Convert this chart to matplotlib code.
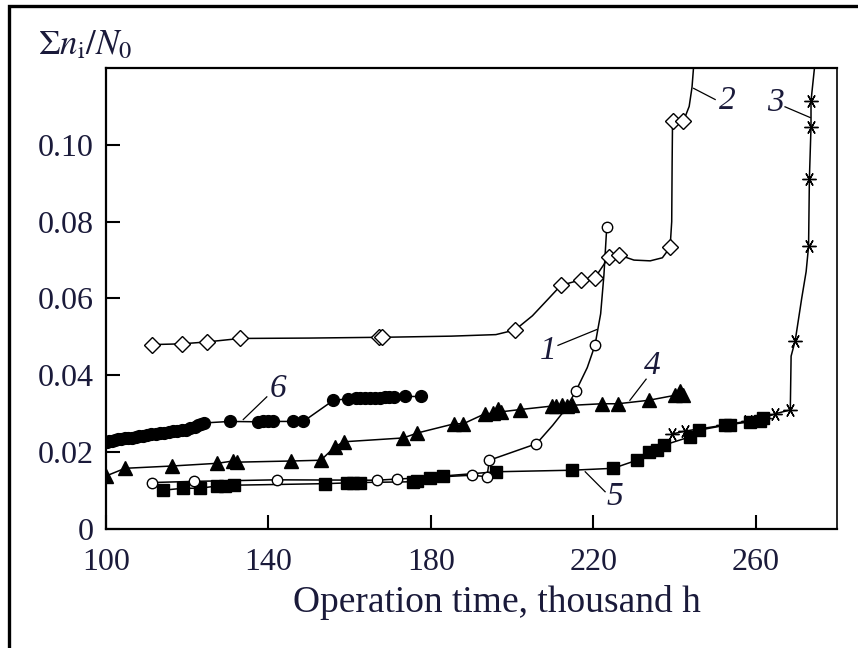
import numpy as np
import matplotlib
matplotlib.use("Agg")
import matplotlib.pyplot as plt
from matplotlib.patches import Rectangle

plt.rcParams['font.family'] = ['Liberation Serif', 'DejaVu Serif']
plt.rcParams['mathtext.fontset'] = 'stix'

# --- data ---
# curve 1 (open circles)
c1_x = [111.4, 121.7, 142.0, 166.7, 171.6, 190.2, 193.8, 194.4, 206.0, 215.7, 220.4, 223.3]
c1_y = [0.0121, 0.0124, 0.0128, 0.0127, 0.0130, 0.0140, 0.0136, 0.0179, 0.0222, 0.0359, 0.0478, 0.0785]
c1_line_x = [111.4, 121.7, 142.0, 166.7, 171.6, 190.2, 193.8, 194.4, 206.0, 210.0, 213.0, 215.7,
             218.5, 220.4, 221.8, 222.6, 223.3]
c1_line_y = [0.0121, 0.0124, 0.0128, 0.0127, 0.0130, 0.0140, 0.0136, 0.0179, 0.0222, 0.0270, 0.0310,
             0.0359, 0.0420, 0.0478, 0.0560, 0.0660, 0.0785]

# curve 2 (open diamonds)
c2_x = [111.3, 118.7, 124.9, 133.0, 167.2, 168.0, 200.7, 212.0, 217.0, 220.4, 223.9, 226.4, 238.9, 239.5, 242.2]
c2_y = [0.0480, 0.0482, 0.0487, 0.0496, 0.0499, 0.0499, 0.0518, 0.0634, 0.0649, 0.0654, 0.0709, 0.0713,
        0.0733, 0.1062, 0.1062]
c2_line_x = [111.3, 118.7, 124.9, 133.0, 150.0, 167.2, 168.0, 185.0, 196.0, 200.7, 205.0, 209.0, 212.0,
             217.0, 220.4, 223.9, 226.4, 230.0, 234.0, 237.0, 238.9, 239.3, 239.4, 239.5, 242.2, 243.6,
             244.3, 244.7]
c2_line_y = [0.0480, 0.0482, 0.0487, 0.0496, 0.0497, 0.0499, 0.0499, 0.0502, 0.0506, 0.0518, 0.0555,
             0.0600, 0.0634, 0.0649, 0.0654, 0.0709, 0.0713, 0.0700, 0.0698, 0.0706, 0.0733, 0.0800,
             0.0950, 0.1062, 0.1062, 0.1100, 0.1150, 0.1205]

# curve 3 (crosses)
c3_x = [239.3, 242.6, 252.0, 258.0, 262.0, 264.8, 268.5, 269.7, 273.0, 273.2, 273.6, 273.6]
c3_y = [0.0247, 0.0255, 0.0270, 0.0281, 0.0289, 0.0300, 0.0310, 0.0490, 0.0736, 0.0911, 0.1047, 0.1114]
c3_line_x = [239.3, 242.6, 252.0, 258.0, 262.0, 264.8, 268.5, 268.7, 269.7, 270.1, 271.3, 272.4,
             273.0, 273.2, 273.6, 273.6, 274.5]
c3_line_y = [0.0247, 0.0255, 0.0270, 0.0281, 0.0289, 0.0300, 0.0310, 0.0450, 0.0490, 0.0517, 0.0600,
             0.0670, 0.0736, 0.0911, 0.1047, 0.1114, 0.1205]

# curve 4 (filled triangles)
c4_x = [100.0, 104.7, 116.3, 127.4, 131.3, 132.3, 145.6, 152.9, 156.4, 158.5, 173.2, 176.7, 185.8,
        188.0, 193.3, 195.4, 196.6, 197.3, 202.0, 209.8, 210.8, 212.2, 213.4, 214.7, 222.1, 226.0,
        233.6, 240.1, 241.4, 242.2]
c4_y = [0.0138, 0.0158, 0.0164, 0.0171, 0.0177, 0.0174, 0.0177, 0.0179, 0.0214, 0.0227, 0.0237,
        0.0250, 0.0274, 0.0274, 0.0300, 0.0301, 0.0312, 0.0305, 0.0311, 0.0320, 0.0320, 0.0322,
        0.0321, 0.0322, 0.0326, 0.0326, 0.0335, 0.0348, 0.0359, 0.0348]

# curve 5 (filled squares)
c5_x = [114.1, 118.9, 123.1, 127.3, 129.3, 131.4, 153.9, 159.3, 160.9, 162.6, 175.7, 176.7, 179.8,
        183.1, 196.1, 214.7, 224.9, 230.7, 233.6, 235.6, 237.3, 243.8, 245.9, 252.5, 253.7, 258.6,
        261.1, 261.9]
c5_y = [0.0101, 0.0106, 0.0106, 0.0112, 0.0112, 0.0114, 0.0118, 0.0120, 0.0120, 0.0121, 0.0123,
        0.0124, 0.0132, 0.0138, 0.0149, 0.0153, 0.0158, 0.0179, 0.0201, 0.0205, 0.0218, 0.0240,
        0.0257, 0.0270, 0.0272, 0.0279, 0.0280, 0.0288]

# curve 6 (filled circles)
c6_x = [100.2, 100.8, 101.5, 102.2, 103.0, 103.8, 104.6, 105.5, 106.4, 107.3, 108.2, 109.2, 110.2,
        111.2, 112.2, 113.2, 114.3, 115.4, 116.5, 117.6, 118.7, 119.8, 120.8, 121.8, 122.6, 123.4,
        124.1, 130.5, 137.5, 138.7, 140.0, 141.2, 146.1, 148.6, 156.0, 159.7, 161.5, 162.6, 163.8,
        165.0, 166.2, 167.4, 168.6, 169.7, 170.8, 173.6, 177.5]
c6_y = [0.0227, 0.0229, 0.0230, 0.0232, 0.0233, 0.0234, 0.0236, 0.0237, 0.0238, 0.0240, 0.0241,
        0.0243, 0.0245, 0.0247, 0.0248, 0.0249, 0.0251, 0.0252, 0.0254, 0.0255, 0.0257, 0.0259,
        0.0262, 0.0266, 0.0270, 0.0273, 0.0276, 0.0280, 0.0279, 0.0280, 0.0280, 0.0280, 0.0280,
        0.0280, 0.0335, 0.0339, 0.0340, 0.0340, 0.0341, 0.0341, 0.0342, 0.0342, 0.0343, 0.0343,
        0.0343, 0.0345, 0.0345]

# curve numbers: (label, text x, text y, leader from, leader to)
labels = [('1', 208.9, 0.0465, (211.3, 0.0478), (220.8, 0.0519)),
          ('2', 252.9, 0.1114, (250.0, 0.1118), (244.7, 0.1147)),
          ('3', 264.8, 0.1110, (267.2, 0.1099), (273.4, 0.1071)),
          ('4', 234.4, 0.0426, (233.0, 0.0390), (229.0, 0.0335)),
          ('5', 225.4, 0.0084, (222.9, 0.0097), (218.0, 0.0149)),
          ('6', 142.4, 0.0365, (139.6, 0.0344), (133.8, 0.0285))]

x_ticks = [100, 140, 180, 220, 260]
y_ticks = [0, 0.02, 0.04, 0.06, 0.08, 0.10]
y_ticklabels = ['0', '0.02', '0.04', '0.06', '0.08', '0.10']

# --- figure ---
fig = plt.figure(figsize=(8.58, 6.48), dpi=100)
ax = fig.add_axes([106/858, 1-529/648, (837-106)/858, (529-68)/648])

lw = 1.1
ax.plot(c1_line_x, c1_line_y, 'k-', lw=lw, zorder=2)
ax.plot(c1_x, c1_y, 'o', mfc='white', mec='k', ms=7.5, mew=1.0, zorder=4)

ax.plot(c2_line_x, c2_line_y, 'k-', lw=lw, zorder=2)
ax.plot(c2_x, c2_y, 'D', mfc='white', mec='k', ms=8, mew=1.0, zorder=4)

ax.plot(c3_line_x, c3_line_y, 'k-', lw=lw, zorder=2)
ax.plot(c3_x, c3_y, ls='none', marker=(6, 2, 30), mec='k', ms=10, mew=1.0, zorder=4)

ax.plot(c4_x, c4_y, 'k-', lw=lw, zorder=2)
ax.plot(c4_x, c4_y, '^', color='k', ms=10, zorder=3)

ax.plot(c5_x, c5_y, 'k-', lw=lw, zorder=2)
ax.plot(c5_x, c5_y, 's', color='k', ms=8.5, zorder=3)

ax.plot(c6_x, c6_y, 'k-', lw=lw, zorder=2)
ax.plot(c6_x, c6_y, 'o', color='k', ms=8.5, zorder=3)

for lab, tx, ty, p0, p1 in labels:
    ax.text(tx, ty, lab, fontsize=24, fontstyle='italic', ha='center', va='center', color='#1a1a3a')
    ax.plot([p0[0], p1[0]], [p0[1], p1[1]], 'k-', lw=0.9)

ax.set_xlim(100, 280)
ax.set_ylim(0, 0.12)
ax.set_xticks(x_ticks)
ax.set_xticklabels([str(t) for t in x_ticks])
ax.set_yticks(y_ticks)
ax.set_yticklabels(y_ticklabels)
ax.tick_params(direction='in', length=10, width=1.5, labelsize=23, labelcolor='#1a1a3a', pad=9)
ax.tick_params(axis='x', pad=14)
for s in ['left', 'bottom', 'top']:
    ax.spines[s].set_linewidth(1.6)
ax.spines['right'].set_linewidth(1.2)

fig.text(497/858, 1-602/648, 'Operation time, thousand h', fontsize=27,
         ha='center', va='center', color='#1a1a3a')
fig.text(38/858, 1-46/648, r'$\Sigma n_{\rm i}/N_0$', fontsize=25,
         ha='left', va='center', color='#1a1a3a')

# outer frame (only top and left edges show)
fig.add_artist(Rectangle((8.5/858, -0.5), 2, 1 - 6/648 + 0.5, transform=fig.transFigure,
                         fill=False, lw=2.4, ec='k'))

fig.savefig('out.png', dpi=100)
